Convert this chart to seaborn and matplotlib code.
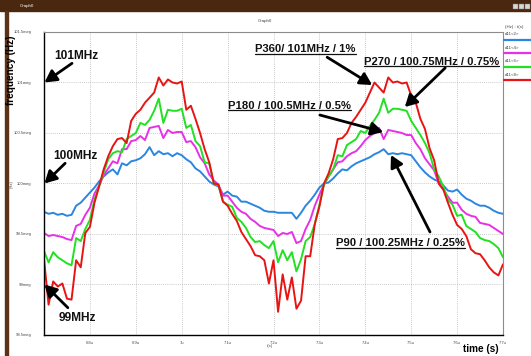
import numpy as np
import pandas as pd
import matplotlib
matplotlib.use("Agg")
import matplotlib.pyplot as plt
from matplotlib.lines import Line2D
from matplotlib.patches import Rectangle
import seaborn as sns

# ---------------- data ----------------
time_us = [round(6.70 + 0.01 * i, 2) for i in range(101)]

d11_2 = [99.72, 99.70, 99.71, 99.69, 99.70, 99.68, 99.69, 99.78, 99.81, 99.86,
         99.91, 99.96, 100.02, 100.07, 100.11, 100.14, 100.09, 100.20, 100.18, 100.22,
         100.23, 100.25, 100.29, 100.36, 100.28, 100.32, 100.29, 100.30, 100.27, 100.30,
         100.28, 100.24, 100.21, 100.15, 100.12, 100.07, 100.02, 99.99, 99.97, 99.89,
         99.92, 99.88, 99.87, 99.82, 99.82, 99.80, 99.78, 99.76, 99.73, 99.72,
         99.72, 99.71, 99.71, 99.71, 99.71, 99.65, 99.71, 99.78, 99.83, 99.89,
         99.96, 100.00, 100.01, 100.05, 100.10, 100.14, 100.13, 100.17, 100.20, 100.22,
         100.24, 100.26, 100.29, 100.31, 100.34, 100.29, 100.30, 100.29, 100.30, 100.29,
         100.28, 100.22, 100.16, 100.11, 100.07, 100.04, 100.02, 99.98, 99.93, 99.92,
         99.94, 99.89, 99.85, 99.83, 99.80, 99.78, 99.78, 99.76, 99.73, 99.71,
         99.70]

d11_4 = [99.51, 99.48, 99.49, 99.48, 99.47, 99.45, 99.44, 99.58, 99.60, 99.69,
         99.76, 99.90, 99.98, 100.08, 100.15, 100.22, 100.20, 100.34, 100.34, 100.42,
         100.43, 100.47, 100.43, 100.55, 100.56, 100.57, 100.45, 100.53, 100.50, 100.51,
         100.51, 100.41, 100.42, 100.36, 100.26, 100.20, 100.09, 100.03, 99.99, 99.88,
         99.88, 99.82, 99.76, 99.72, 99.70, 99.65, 99.62, 99.58, 99.56, 99.55,
         99.54, 99.48, 99.51, 99.50, 99.52, 99.41, 99.43, 99.55, 99.64, 99.78,
         99.89, 99.99, 100.07, 100.14, 100.21, 100.22, 100.27, 100.30, 100.32, 100.37,
         100.43, 100.47, 100.50, 100.55, 100.44, 100.53, 100.52, 100.51, 100.50, 100.48,
         100.48, 100.40, 100.34, 100.25, 100.19, 100.13, 100.00, 99.94, 99.87, 99.81,
         99.81, 99.74, 99.70, 99.68, 99.67, 99.61, 99.60, 99.59, 99.56, 99.53,
         99.50]

d11_6 = [99.33, 99.22, 99.32, 99.27, 99.24, 99.21, 99.19, 99.46, 99.43, 99.55,
         99.64, 99.84, 99.97, 100.11, 100.24, 100.30, 100.32, 100.31, 100.44, 100.47,
         100.50, 100.60, 100.58, 100.63, 100.72, 100.84, 100.60, 100.73, 100.72, 100.72,
         100.74, 100.55, 100.58, 100.42, 100.37, 100.21, 100.20, 100.00, 99.98, 99.82,
         99.79, 99.77, 99.66, 99.62, 99.56, 99.47, 99.42, 99.43, 99.39, 99.36,
         99.43, 99.22, 99.34, 99.24, 99.32, 99.13, 99.25, 99.43, 99.47, 99.60,
         99.79, 99.99, 100.07, 100.14, 100.28, 100.27, 100.38, 100.41, 100.44, 100.52,
         100.50, 100.57, 100.63, 100.70, 100.84, 100.70, 100.74, 100.74, 100.73, 100.72,
         100.62, 100.55, 100.48, 100.40, 100.30, 100.14, 100.07, 99.97, 99.84, 99.79,
         99.68, 99.69, 99.58, 99.55, 99.52, 99.46, 99.44, 99.43, 99.40, 99.36,
         99.27]

d11_8 = [99.25, 98.80, 99.03, 98.98, 99.01, 98.86, 98.85, 99.24, 99.17, 99.51,
         99.57, 99.81, 99.97, 100.14, 100.27, 100.37, 100.44, 100.45, 100.40, 100.62,
         100.69, 100.73, 100.80, 100.85, 100.90, 101.05, 100.97, 101.03, 101.00, 100.99,
         101.01, 100.73, 100.77, 100.64, 100.50, 100.34, 100.21, 100.00, 99.99, 99.82,
         99.78, 99.70, 99.63, 99.52, 99.45, 99.38, 99.29, 99.28, 99.24, 99.01,
         99.24, 98.73, 99.10, 98.85, 99.07, 98.76, 98.84, 99.28, 99.28, 99.60,
         99.77, 100.00, 100.10, 100.24, 100.44, 100.45, 100.50, 100.60, 100.66, 100.73,
         100.80, 100.90, 101.00, 100.95, 100.90, 101.05, 101.00, 101.01, 100.99, 101.00,
         100.87, 100.80, 100.64, 100.54, 100.35, 100.23, 100.00, 99.94, 99.81, 99.69,
         99.59, 99.55, 99.48, 99.35, 99.31, 99.30, 99.24, 99.17, 99.12, 99.09,
         99.20]

series_names = ["d11<2>", "d11<4>", "d11<6>", "d11<8>"]
series_colors = ["#2a86e0", "#e830e8", "#22e022", "#e81414"]

x_ticks = [6.8, 6.9, 7.0, 7.1, 7.2, 7.3, 7.4, 7.5, 7.6, 7.7]
x_tick_labels = ["6.8u", "6.9u", "7u", "7.1u", "7.2u", "7.3u", "7.4u", "7.5u", "7.6u", "7.7u"]
y_ticks = [98.5, 99.0, 99.5, 100.0, 100.5, 101.0, 101.5]
y_tick_labels = ["98.5meg", "99meg", "99.5meg", "100meg", "100.5meg", "101meg", "101.5meg"]

# ---------------- figure ----------------
sns.set_theme(style="white")
plt.rcParams["font.family"] = ["Liberation Sans", "DejaVu Sans"]

W, H = 531, 356
fig = plt.figure(figsize=(W / 100, H / 100), dpi=100)
fig.patch.set_facecolor("white")
ax = fig.add_axes([44 / W, 1 - 335 / H, 459 / W, 303 / H])

df = pd.concat([
    pd.DataFrame({"t": time_us, "f": vals, "series": name})
    for name, vals in zip(series_names, [d11_2, d11_4, d11_6, d11_8])
], ignore_index=True)

sns.lineplot(data=df, x="t", y="f", hue="series", hue_order=series_names,
             palette=dict(zip(series_names, series_colors)), estimator=None,
             sort=False, linewidth=1.4, legend=False, ax=ax)

ax.set_xlim(6.7, 7.7)
ax.set_ylim(98.5, 101.5)
ax.set_xticks(x_ticks)
ax.set_xticklabels(x_tick_labels)
ax.set_yticks(y_ticks)
ax.set_yticklabels(y_tick_labels)
ax.tick_params(axis="both", labelsize=3.0, colors="#444444", length=2, width=0.5,
               pad=7, direction="out")
ax.tick_params(axis="x", pad=2)
ax.set_xlabel("")
ax.set_ylabel("")
ax.grid(True, color="#b8b8b8", linestyle=(0, (1, 1.5)), linewidth=0.6)
for side in ["left", "bottom"]:
    ax.spines[side].set_color("black")
    ax.spines[side].set_linewidth(1.0)
for side in ["top", "right"]:
    ax.spines[side].set_color("#8c8c8c")
    ax.spines[side].set_linewidth(0.8)

# ---------------- window chrome ----------------
fig.patches.append(Rectangle((0, 1 - 11 / H), 1, 11 / H, transform=fig.transFigure,
                             color="#4a2810", zorder=0))
fig.patches.append(Rectangle((5 / W, 0), 2.5 / W, 1 - 11 / H, transform=fig.transFigure,
                             color="#5c3317", zorder=0))
for bx in [513, 519, 525]:
    fig.patches.append(Rectangle((bx / W, 1 - 8.5 / H), 4.5 / W, 5 / H,
                                 transform=fig.transFigure, facecolor="#d8d8d8",
                                 edgecolor="#777777", linewidth=0.3, zorder=1))
fig.text(20 / W, 1 - 5.5 / H, "Graph0", fontsize=3.2, color="white", va="center")
fig.text(265 / W, 1 - 21 / H, "Graph0", fontsize=3.2, color="#444444", ha="center", va="center")

# axis titles
fig.text(11.5 / W, 1 - 70 / H, "frequency (Hz)", rotation=90, fontsize=7.2,
         fontweight="bold", color="black", ha="center", va="center")
fig.text(11.5 / W, 1 - 184 / H, "(Hz)", rotation=90, fontsize=3.0, color="#444444",
         ha="center", va="center")
fig.text(270 / W, 1 - 346.5 / H, "t(s)", fontsize=3.0, color="#444444", ha="center", va="center")
fig.text(481 / W, 1 - 349.5 / H, "time (s)", fontsize=7.2, fontweight="bold",
         color="black", ha="center", va="center")

# legend at right edge
fig.text(505 / W, 1 - 27 / H, "(Hz) : t(s)", fontsize=3.2, color="#444444", va="center")
for k, (name, col) in enumerate(zip(series_names, series_colors)):
    ty = 34.3 + 13.4 * k
    fig.text(505 / W, 1 - ty / H, name, fontsize=3.2, color="#444444", va="center")
    fig.add_artist(Line2D([504 / W, 1.0], [1 - (ty + 5.7) / H] * 2, color=col,
                          linewidth=1.6, transform=fig.transFigure))

# ---------------- annotations ----------------
arrow_kw = dict(arrowstyle="-|>,head_length=0.55,head_width=0.3", color="black",
                lw=2.0, mutation_scale=13, shrinkA=0, shrinkB=0)

edge_labels = [
    ("101MHz", (6.770, 101.26), (6.761, 101.19), (6.701, 101.0)),
    ("100MHz", (6.768, 100.27), (6.746, 100.20), (6.701, 100.0)),
    ("99MHz", (6.772, 98.67), (6.752, 98.77), (6.701, 99.0)),
]
for txt, pos, tail, tip in edge_labels:
    ax.text(pos[0], pos[1], txt, fontsize=8.6, fontweight="bold", ha="center",
            va="center", color="#111111", clip_on=False)
    ax.annotate("", xy=tip, xytext=tail, arrowprops=arrow_kw, annotation_clip=False)

peak_labels = [
    ("P360/ 101MHz / 1%", (7.270, 101.327), (7.317, 101.25), (7.415, 100.975)),
    ("P270 / 100.75MHz / 0.75%", (7.545, 101.203), (7.574, 101.144), (7.486, 100.757)),
    ("P180 / 100.5MHz / 0.5%", (7.235, 100.772), (7.301, 100.678), (7.439, 100.51)),
    ("P90 / 100.25MHz / 0.25%", (7.476, 99.406), (7.541, 99.52), (7.456, 100.282)),
]
underlined = []
for txt, pos, tail, tip in peak_labels:
    t = ax.text(pos[0], pos[1], txt, fontsize=8.1, fontweight="bold", ha="center",
                va="center", color="#111111", clip_on=False, zorder=6)
    underlined.append(t)
    ax.annotate("", xy=tip, xytext=tail, arrowprops=arrow_kw, annotation_clip=False,
                zorder=7)

fig.canvas.draw()
renderer = fig.canvas.get_renderer()
for t in underlined:
    bb = t.get_window_extent(renderer)
    yline = bb.y0 + 0.5
    fig.add_artist(Line2D([bb.x0 / W, bb.x1 / W], [yline / H] * 2, color="#111111",
                          linewidth=0.9, transform=fig.transFigure))

fig.savefig("out.png", dpi=100, facecolor="white")
